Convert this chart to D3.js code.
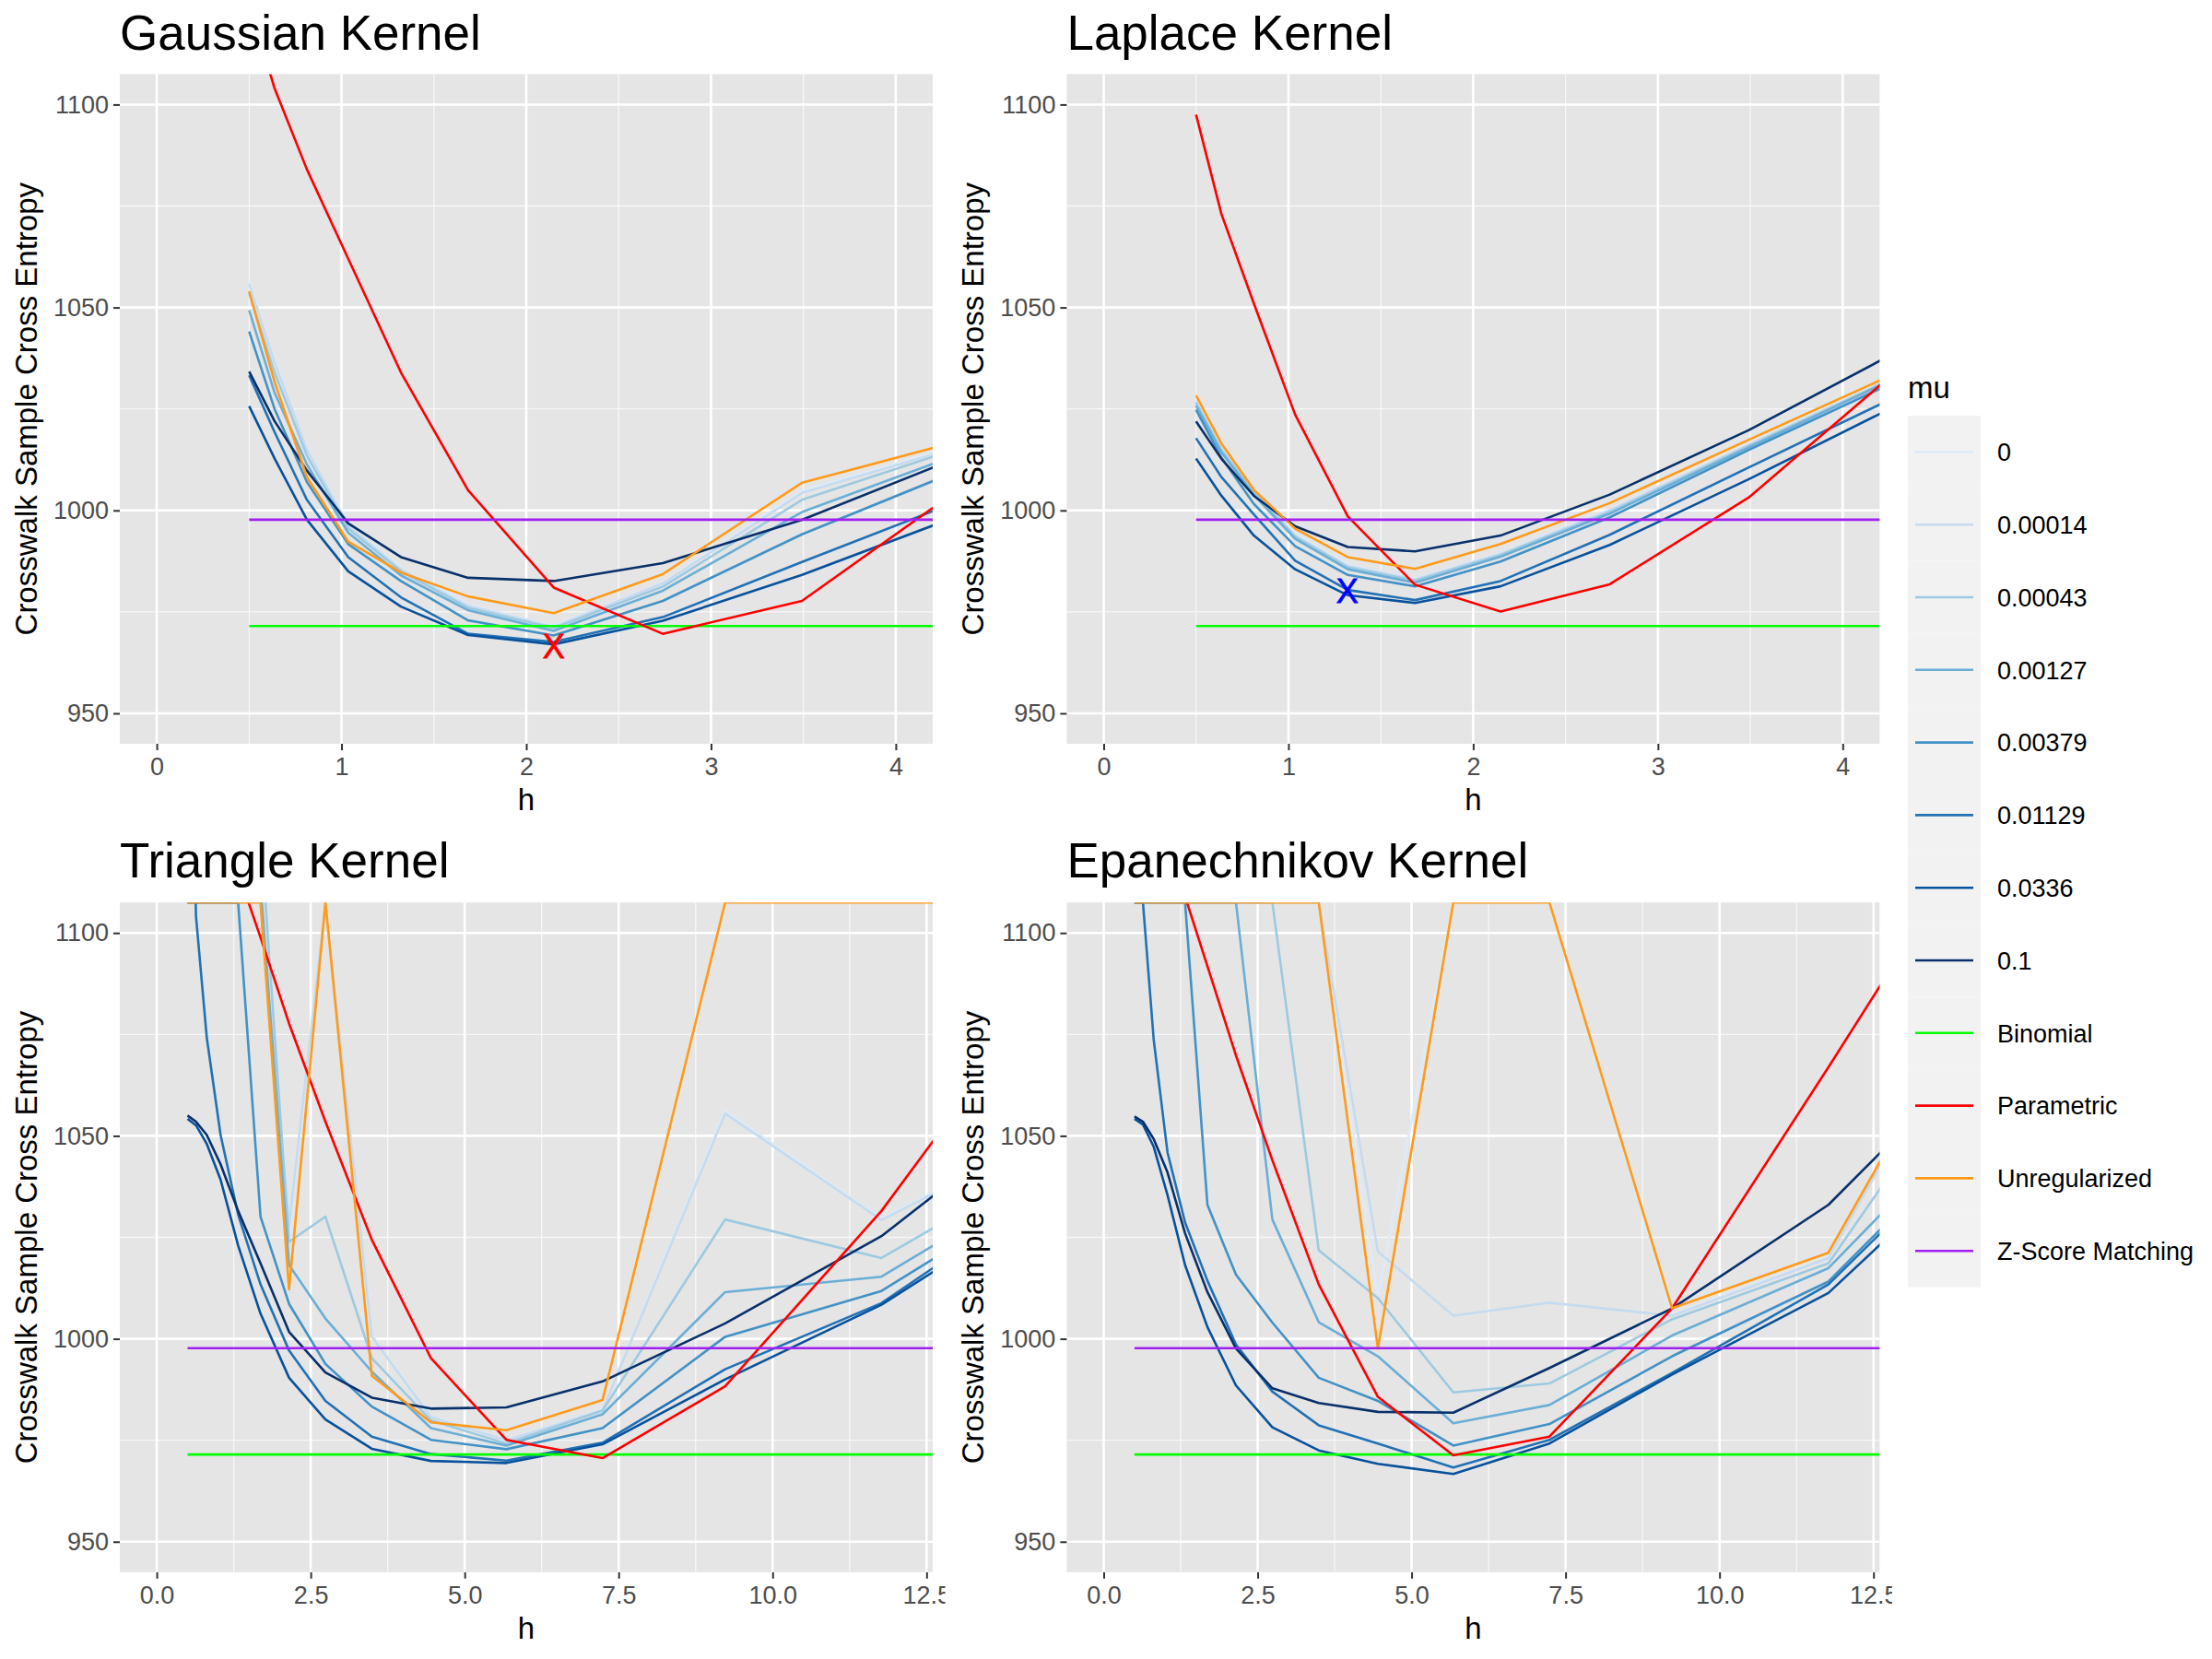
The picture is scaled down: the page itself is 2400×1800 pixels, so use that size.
<!DOCTYPE html>
<html>
<head>
<meta charset="utf-8">
<script src="https://cdn.jsdelivr.net/npm/d3@7"></script>
<style>
  body { margin: 0; background: #fff; }
  text { font-family: "Liberation Sans", Arial, Helvetica, sans-serif; }
</style>
</head>
<body>
<div id="chart"></div>
<script>
// bandwidth grid shared by every kernel
const hGrid = [0.5, 0.6375, 0.8128, 1.0364, 1.3214, 1.6848, 2.1482, 2.739, 3.4922, 4.4526, 5.6772, 7.2386, 9.2294, 11.7677, 15];

// legend levels and colours
const muLevels = ["0", "0.00014", "0.00043", "0.00127", "0.00379", "0.01129", "0.0336", "0.1"];
const muColors = ["#deebf7", "#c6dbef", "#9ecae1", "#6baed6", "#4292c6", "#2171b5", "#08519c", "#08306b"];
const otherLevels = ["Binomial", "Parametric", "Unregularized", "Z-Score Matching"];
const otherColors = ["#00ff00", "#ff0000", "#ff9a1a", "#a020f0"];

// flat reference lines
const binomialLevel = 971.5;
const zScoreLevel = 997.7;

// Gaussian kernel (Infinity = pinned to top)
const gaussMu0 = [1056.5, 1037.0, 1015.5, 996.5, 985.8, 976.8, 971.5, 982.2, 1004.8, 1017.6];
const gaussMu1 = [1055.8, 1036.5, 1015.0, 996.2, 985.5, 976.5, 971.3, 982.0, 1004.3, 1017.2];
const gaussMu2 = [1053.5, 1034.0, 1013.5, 995.5, 985.0, 976.0, 971.0, 981.2, 1002.6, 1017.0];
const gaussMu3 = [1049.3, 1029.0, 1011.3, 994.5, 984.0, 975.4, 970.3, 980.2, 999.6, 1015.7];
const gaussMu4 = [1044.1, 1025.0, 1007.0, 991.7, 982.6, 972.9, 969.2, 977.7, 994.1, 1011.9];
const gaussMu5 = [1033.3, 1019.3, 1002.6, 988.5, 978.6, 969.6, 967.6, 973.7, 987.3, 1004.3];
const gaussMu6 = [1025.7, 1012.8, 997.7, 985.0, 976.3, 969.3, 967.0, 972.8, 984.1, 1000.6];
const gaussMu7 = [1034.2, 1022.0, 1009.8, 996.8, 988.5, 983.4, 982.6, 987.0, 997.7, 1015.1];
const gaussParam = [1125, 1104, 1084, 1062, 1034, 1005, 981, 969.6, 977.7, 1008.8];
const gaussUnreg = [1054.0, 1031.7, 1008.2, 992.3, 984.7, 978.8, 974.7, 984.3, 1006.8, 1018.4];
const gaussBest = [2.148, 966.6];

// Laplace kernel
const lapMu0 = [1027.2, 1015.5, 1005.0, 994.0, 986.5, 983.2, 989.5, 1000.2, 1016.4, 1036.6];
const lapMu1 = [1026.8, 1015.2, 1004.8, 993.8, 986.3, 983.0, 989.3, 1000.0, 1016.2, 1036.5];
const lapMu2 = [1026.5, 1014.8, 1004.4, 993.5, 986.0, 982.7, 989.0, 999.6, 1015.9, 1036.3];
const lapMu3 = [1025.8, 1014.3, 1003.8, 993.0, 985.5, 982.2, 988.6, 999.2, 1015.5, 1036.2];
const lapMu4 = [1024.8, 1013.0, 1001.6, 991.2, 984.1, 981.3, 987.4, 998.3, 1014.9, 1035.3];
const lapMu5 = [1017.8, 1008.2, 999.0, 987.6, 980.4, 977.9, 982.6, 994.0, 1010.6, 1031.6];
const lapMu6 = [1012.8, 1003.6, 993.8, 985.5, 979.1, 977.2, 981.3, 991.5, 1007.7, 1029.5];
const lapMu7 = [1021.9, 1012.7, 1003.6, 996.1, 991.0, 989.9, 993.8, 1003.9, 1019.8, 1042.9];
const lapParam = [1097.5, 1073, 1051, 1023.6, 998.5, 981.7, 975.1, 981.8, 1003.2, 1040.6];
const lapUnreg = [1028.3, 1016.5, 1005.1, 995.5, 988.5, 985.6, 991.7, 1001.8, 1017.4, 1037.2];
const lapBest = [1.318, 980.2];

// Triangle kernel
const I = Infinity;
const triMu0 = [I, I, I, I, I, I, 1028.7, I, 1001.0, 980.9, 975.1, 982.6, 1056.2, 1029.6, 1054.8];
const triMu1 = [I, I, I, I, I, I, 1028.0, I, 1000.5, 980.7, 975.0, 982.4, 1055.5, 1029.3, 1054.0];
const triMu2 = [I, I, I, I, I, 1125, 1023.9, 1030.1, 995.2, 979.9, 974.2, 982.3, 1029.4, 1019.9, 1048.3];
const triMu3 = [I, I, I, I, I, 1112, 1018.2, 1005.0, 991.9, 978.0, 973.7, 981.4, 1011.5, 1015.3, 1044.8];
const triMu4 = [I, I, I, I, I, 1030.1, 1008.6, 993.8, 983.3, 975.1, 972.8, 978.0, 1000.5, 1011.8, 1042.1];
const triMu5 = [1190, 1104, 1074.1, 1050.2, 1030.6, 1013.4, 997.1, 984.7, 975.9, 971.6, 970.0, 974.4, 992.5, 1008.8, 1042.2];
const triMu6 = [1054.2, 1052.6, 1048.0, 1039.2, 1023.0, 1006.2, 990.4, 980.1, 972.9, 969.9, 969.4, 974.0, 990.0, 1008.4, 1039.5];
const triMu7 = [1055.0, 1053.5, 1050.2, 1043.0, 1031.5, 1018.6, 1001.7, 991.7, 985.5, 982.8, 983.1, 989.5, 1003.8, 1025.3, 1063.4];
const triParam = [1160, 1145, 1130, 1120, 1115, 1098.9, 1077.7, 1053.5, 1024.4, 995.2, 975.1, 970.6, 988.3, 1031.5, 1097.9];
const triUnreg = [I, I, I, I, I, I, 1012.2, I, 990.9, 979.4, 977.5, 984.9, I, I, I];

// Epanechnikov kernel
const epaMu0 = [I, I, I, I, I, I, I, I, I, 1010.5, I, I, 1006.0, 1020.2, 1108];
const epaMu1 = [I, I, I, I, I, I, I, I, I, 1021.5, 1005.7, 1008.9, 1005.7, 1019.9, 1107];
const epaMu2 = [I, I, I, I, I, I, I, I, 1021.8, 1010.0, 986.8, 989.0, 1004.8, 1018.6, 1089.3];
const epaMu3 = [I, I, I, I, I, I, I, 1029.4, 1004.1, 995.7, 979.2, 983.7, 1000.8, 1017.4, 1067.9];
const epaMu4 = [I, I, I, I, I, 1033.0, 1015.8, 1004.0, 990.4, 984.7, 973.7, 979.0, 995.7, 1014.1, 1063.4];
const epaMu5 = [I, I, 1073.6, 1045.9, 1028.7, 1014.3, 998.6, 987.0, 978.7, 974.2, 968.3, 975.1, 991.6, 1013.4, 1061.6];
const epaMu6 = [1054.2, 1052.8, 1047.3, 1035.4, 1018.2, 1002.9, 988.5, 978.2, 972.5, 969.2, 966.7, 974.2, 991.2, 1011.3, 1057.1];
const epaMu7 = [1054.8, 1053.5, 1049.2, 1041.0, 1026.0, 1011.5, 997.6, 987.8, 984.2, 982.0, 981.8, 992.8, 1007.5, 1033.0, 1082.3];
const epaParam = [1250, 1200, 1160, 1130, 1109, 1091.8, 1069.8, 1044.0, 1013.4, 985.7, 971.3, 975.9, 1007.5, 1066.9, 1144.2];
const epaUnreg = [I, I, I, I, I, I, I, I, I, 997.6, I, I, 1007.5, 1021.2, 1107.8];

// axis ticks
const yTicks = [950, 1000, 1050, 1100];
const yMinor = [975, 1025, 1075];
const smallXTicks = [0, 1, 2, 3, 4];
const smallXMinor = [0.5, 1.5, 2.5, 3.5];
const wideXTicks = [0, 2.5, 5, 7.5, 10, 12.5];
const wideXMinor = [1.25, 3.75, 6.25, 8.75, 11.25];

const width = 2400, height = 1800;
const colLeft = [130, 1157.4], panelW = 882;
const rowTop = [80.4, 979.2], panelH = 726.6;
const yDomain = [942.5, 1107.5];

const panels = [
  {title: "Gaussian Kernel", col: 0, row: 0, xDomain: [-0.2, 4.2], xTicks: smallXTicks, xMinor: smallXMinor, fmt: d3.format("d"),
   mu: [gaussMu0, gaussMu1, gaussMu2, gaussMu3, gaussMu4, gaussMu5, gaussMu6, gaussMu7], param: gaussParam, unreg: gaussUnreg,
   best: gaussBest, bestColor: "#ff0000"},
  {title: "Laplace Kernel", col: 1, row: 0, xDomain: [-0.2, 4.2], xTicks: smallXTicks, xMinor: smallXMinor, fmt: d3.format("d"),
   mu: [lapMu0, lapMu1, lapMu2, lapMu3, lapMu4, lapMu5, lapMu6, lapMu7], param: lapParam, unreg: lapUnreg,
   best: lapBest, bestColor: "#0000ff"},
  {title: "Triangle Kernel", col: 0, row: 1, xDomain: [-0.6, 12.6], xTicks: wideXTicks, xMinor: wideXMinor, fmt: d3.format(".1f"),
   mu: [triMu0, triMu1, triMu2, triMu3, triMu4, triMu5, triMu6, triMu7], param: triParam, unreg: triUnreg},
  {title: "Epanechnikov Kernel", col: 1, row: 1, xDomain: [-0.6, 12.6], xTicks: wideXTicks, xMinor: wideXMinor, fmt: d3.format(".1f"),
   mu: [epaMu0, epaMu1, epaMu2, epaMu3, epaMu4, epaMu5, epaMu6, epaMu7], param: epaParam, unreg: epaUnreg}
];

const svg = d3.select("#chart")
  .append("svg")
  .attr("width", width)
  .attr("height", height);

svg.append("rect").attr("width", width).attr("height", height).attr("fill", "#fff");

panels.forEach((p, i) => {
  const left = colLeft[p.col], top = rowTop[p.row];
  const g = svg.append("g").attr("transform", `translate(${left},${top})`);

  const x = d3.scaleLinear().domain(p.xDomain).range([0, panelW]);
  const y = d3.scaleLinear().domain(yDomain).range([panelH, 0]);
  // infinite values sit on the panel edge, large finite ones get clipped
  const yPos = v => v === Infinity ? 0 : y(v);

  // panel background and grid
  g.append("rect").attr("width", panelW).attr("height", panelH).attr("fill", "#e5e5e5");
  g.selectAll(".xminor").data(p.xMinor).join("line")
    .attr("x1", d => x(d)).attr("x2", d => x(d)).attr("y1", 0).attr("y2", panelH)
    .attr("stroke", "#f7f7f7").attr("stroke-width", 1.3);
  g.selectAll(".yminor").data(yMinor).join("line")
    .attr("y1", d => y(d)).attr("y2", d => y(d)).attr("x1", 0).attr("x2", panelW)
    .attr("stroke", "#f7f7f7").attr("stroke-width", 1.3);
  g.selectAll(".xmajor").data(p.xTicks).join("line")
    .attr("x1", d => x(d)).attr("x2", d => x(d)).attr("y1", 0).attr("y2", panelH)
    .attr("stroke", "#fff").attr("stroke-width", 2.6);
  g.selectAll(".ymajor").data(yTicks).join("line")
    .attr("y1", d => y(d)).attr("y2", d => y(d)).attr("x1", 0).attr("x2", panelW)
    .attr("stroke", "#fff").attr("stroke-width", 2.6);

  // clip for the data
  svg.append("clipPath").attr("id", "clip" + i)
    .append("rect").attr("width", panelW).attr("height", panelH);
  const plot = g.append("g").attr("clip-path", `url(#clip${i})`);

  const line = d3.line().x(d => x(d[0])).y(d => yPos(d[1]));
  const pts = arr => arr.map((v, k) => [hGrid[k], v]);
  const flat = v => [[hGrid[0], v], [hGrid[hGrid.length - 1], v]];

  // drawn in legend order, like ggplot groups
  const drawList = p.mu.map((arr, k) => ({d: pts(arr), c: muColors[k]}));
  drawList.push({d: flat(binomialLevel), c: otherColors[0]});
  drawList.push({d: pts(p.param), c: otherColors[1]});
  drawList.push({d: pts(p.unreg), c: otherColors[2]});
  drawList.push({d: flat(zScoreLevel), c: otherColors[3]});

  plot.selectAll("path.series").data(drawList).join("path")
    .attr("class", "series")
    .attr("d", s => line(s.d))
    .attr("fill", "none")
    .attr("stroke", s => s.c)
    .attr("stroke-width", 2.6)
    .attr("stroke-linejoin", "round");

  if (p.best) {
    plot.append("text")
      .attr("x", x(p.best[0])).attr("y", y(p.best[1]))
      .attr("text-anchor", "middle").attr("dy", "0.36em")
      .attr("font-size", 36).attr("fill", p.bestColor)
      .attr("stroke", p.bestColor).attr("stroke-width", 0.8)
      .text("X");
  }

  // axes
  svg.append("clipPath").attr("id", "axclip" + i)
    .append("rect").attr("x", -60).attr("y", 0).attr("width", panelW + 60 + 13.5).attr("height", 60);
  const xAxis = g.append("g")
    .attr("transform", `translate(0,${panelH})`)
    .attr("clip-path", `url(#axclip${i})`)
    .call(d3.axisBottom(x).tickValues(p.xTicks).tickFormat(p.fmt).tickSize(7).tickPadding(8))
    .call(a => a.select(".domain").remove());
  xAxis.selectAll("line").attr("stroke", "#333").attr("stroke-width", 2);
  xAxis.selectAll("text").attr("fill", "#4d4d4d").attr("font-size", 27)
    .style("font-family", "'Liberation Sans', Arial, sans-serif");

  const yAxis = g.append("g")
    .call(d3.axisLeft(y).tickValues(yTicks).tickFormat(d3.format("d")).tickSize(7).tickPadding(5))
    .call(a => a.select(".domain").remove());
  yAxis.selectAll("line").attr("stroke", "#333").attr("stroke-width", 2);
  yAxis.selectAll("text").attr("fill", "#4d4d4d").attr("font-size", 27)
    .style("font-family", "'Liberation Sans', Arial, sans-serif");

  // titles
  g.append("text").attr("x", 0).attr("y", -26.8)
    .attr("font-size", 53).attr("fill", "#000").text(p.title);
  g.append("text").attr("x", panelW / 2).attr("y", panelH + 72)
    .attr("text-anchor", "middle").attr("font-size", 33).attr("fill", "#000").text("h");
  g.append("text")
    .attr("transform", `translate(${28 - left + (p.col ? 1027.4 : 0)},${panelH / 2}) rotate(-90)`)
    .attr("text-anchor", "middle").attr("dy", "0.36em")
    .attr("font-size", 33).attr("fill", "#000").text("Crosswalk Sample Cross Entropy");
});

// legend
const legendLevels = muLevels.concat(otherLevels);
const legendColors = muColors.concat(otherColors);
const keySize = 78.8;
const legend = svg.append("g").attr("transform", "translate(2070,451)");
legend.append("text").attr("x", 0).attr("y", -19).attr("font-size", 33).attr("fill", "#000").text("mu");
const row = legend.selectAll("g.key").data(legendLevels).join("g")
  .attr("class", "key")
  .attr("transform", (_, k) => `translate(0,${k * keySize})`);
row.append("rect").attr("width", 79).attr("height", keySize).attr("fill", "#f2f2f2");
row.append("line")
  .attr("x1", 8).attr("x2", 71).attr("y1", keySize / 2).attr("y2", keySize / 2)
  .attr("stroke", (_, k) => legendColors[k]).attr("stroke-width", 2.6);
row.append("text")
  .attr("x", 97).attr("y", keySize / 2).attr("dy", "0.36em")
  .attr("font-size", 27).attr("fill", "#000")
  .text(d => d);
</script>
</body>
</html>
